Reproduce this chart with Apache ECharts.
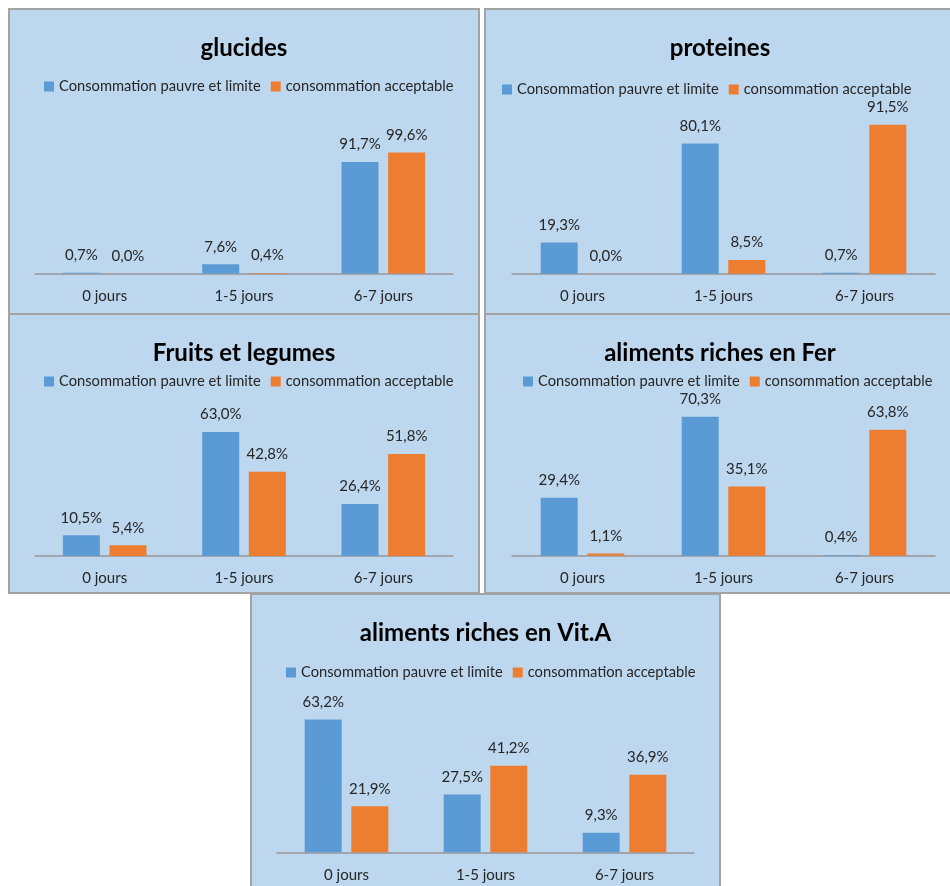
<!DOCTYPE html>
<html>
<head>
<meta charset="utf-8">
<script src="https://cdn.jsdelivr.net/npm/echarts@6/dist/echarts.min.js"></script>
<style>
  body { margin: 0; width: 950px; height: 886px; overflow: hidden; background: #fff; position: relative; }
  .panel { position: absolute; box-sizing: border-box; border: 2px solid #a3a3a3; background: #BDD7EE; }
  .panel > div { width: 100%; height: 100%; }
</style>
</head>
<body>
<div class="panel" style="left:8px;top:8px;width:472px;height:307px"><div id="c1"></div></div>
<div class="panel" style="left:484px;top:8px;width:472px;height:307px"><div id="c2"></div></div>
<div class="panel" style="left:8px;top:313px;width:472px;height:281px"><div id="c3"></div></div>
<div class="panel" style="left:484px;top:313px;width:472px;height:281px"><div id="c4"></div></div>
<div class="panel" style="left:250px;top:593px;width:471px;height:300px"><div id="c5"></div></div>
<script>
// categories & series
var categories = ['0 jours', '1-5 jours', '6-7 jours'];
var seriesNames = ['Consommation pauvre et limite', 'consommation acceptable'];

var glucidesPauvre = [0.7, 7.6, 91.7];
var glucidesAccept = [0.0, 0.4, 99.6];
var proteinesPauvre = [19.3, 80.1, 0.7];
var proteinesAccept = [0.0, 8.5, 91.5];
var fruitsPauvre = [10.5, 63.0, 26.4];
var fruitsAccept = [5.4, 42.8, 51.8];
var ferPauvre = [29.4, 70.3, 0.4];
var ferAccept = [1.1, 35.1, 63.8];
var vitAPauvre = [63.2, 27.5, 9.3];
var vitAAccept = [21.9, 41.2, 36.9];

var FONT = 'Lato, "Open Sans", sans-serif';

function fmt(p) {
    return p.value.toFixed(1).replace('.', ',') + '%';
}

function draw(id, title, pauvre, accept, lay) {
    var chart = echarts.init(document.getElementById(id));
    var lbl = {
        show: true, position: 'top', distance: 10,
        formatter: fmt, color: '#262626', fontSize: 15, fontFamily: FONT
    };
    var option = {
        animation: false,
        textStyle: { fontFamily: FONT },
        title: {
            text: title, left: 'center', top: lay.titleTop, padding: 0,
            textStyle: { fontSize: 24, fontWeight: 'bold', color: '#000', fontFamily: FONT }
        },
        legend: {
            data: seriesNames, left: lay.legendLeft, top: lay.legendTop, padding: 0,
            icon: 'rect', itemWidth: 10, itemHeight: 10, itemGap: 10,
            textStyle: { fontSize: 14.7, color: '#262626', fontFamily: FONT }
        },
        grid: { left: lay.left, top: lay.top, width: lay.width, height: lay.height },
        xAxis: {
            type: 'category', data: categories,
            axisLine: { lineStyle: { color: '#969696', width: 1.5 } },
            axisTick: { show: false },
            axisLabel: { color: '#262626', fontSize: 15, margin: 15, fontFamily: FONT }
        },
        yAxis: { type: 'value', min: 0, max: 100, show: false, splitLine: { show: false } },
        series: [
            { name: seriesNames[0], type: 'bar', data: pauvre, barWidth: 37, barGap: '26%',
              itemStyle: { color: '#5B9BD5' }, label: lbl },
            { name: seriesNames[1], type: 'bar', data: accept, barWidth: 37,
              itemStyle: { color: '#ED7D31' }, label: lbl }
        ]
    };
    chart.setOption(option);
}

draw('c1', 'glucides', glucidesPauvre, glucidesAccept,
    { titleTop: 26, legendLeft: 34, legendTop: 69, left: 25, width: 418, top: 142, height: 121.5 });
draw('c2', 'proteines', proteinesPauvre, proteinesAccept,
    { titleTop: 26, legendLeft: 16, legendTop: 72, left: 26, width: 423, top: 101, height: 162.8 });
draw('c3', 'Fruits et legumes', fruitsPauvre, fruitsAccept,
    { titleTop: 26, legendLeft: 34, legendTop: 59, left: 25, width: 418, top: 44, height: 197 });
draw('c4', 'aliments riches en Fer', ferPauvre, ferAccept,
    { titleTop: 26, legendLeft: 37, legendTop: 59, left: 26, width: 423, top: 43.2, height: 197.5 });
draw('c5', 'aliments riches en Vit.A', vitAPauvre, vitAAccept,
    { titleTop: 26, legendLeft: 34, legendTop: 70, left: 25, width: 417, top: 47.3, height: 210 });
</script>
</body>
</html>
